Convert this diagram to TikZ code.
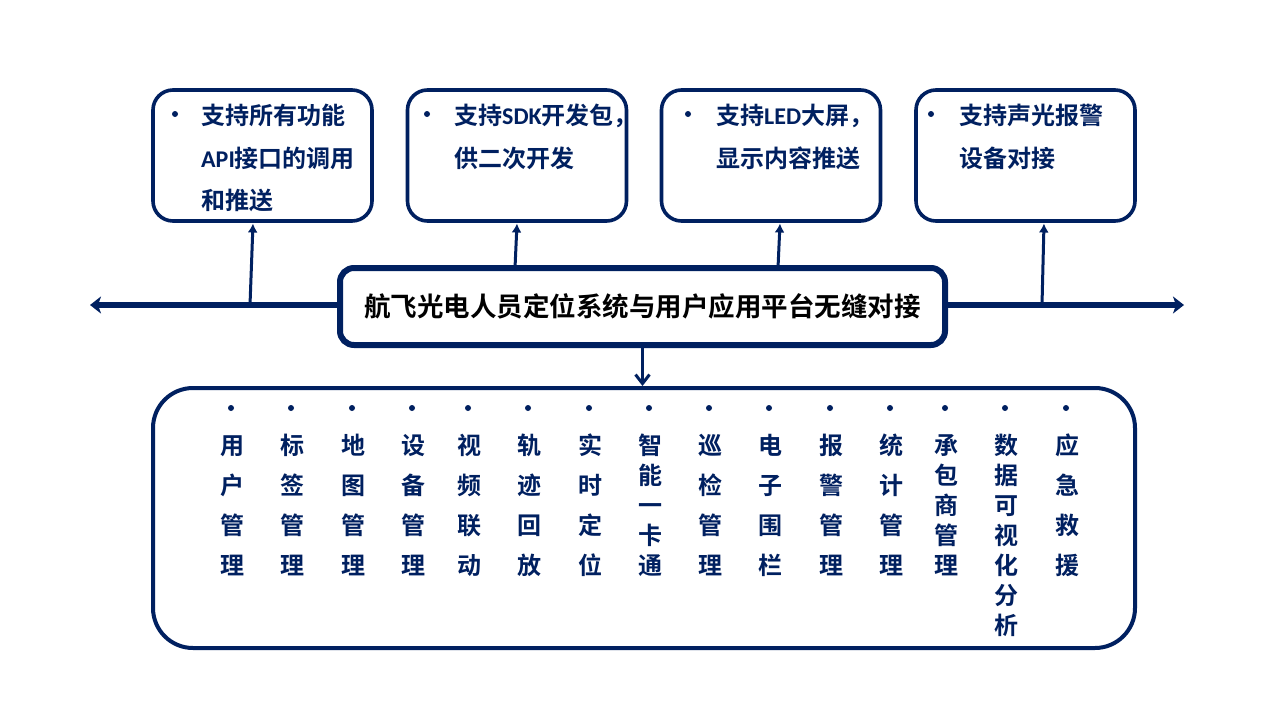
\documentclass[tikz,border=0pt]{standalone}
\usepackage{fontspec}
\setmainfont{Noto Sans CJK SC}[BoldFont={Noto Sans CJK SC Bold}]
\newfontfamily\latf{Carlito}
\usetikzlibrary{arrows.meta}
\definecolor{navy}{HTML}{002060}
\begin{document}
\begin{tikzpicture}[x=1pt,y=-1pt,
  topbox/.style={draw=navy, line width=3.6pt, rounded corners=20pt, minimum width=219pt, minimum height=131pt, inner sep=0pt},
  tline/.style={anchor=west, inner sep=0pt, text=navy, font=\fontsize{24}{28}\selectfont\bfseries, text height=21pt, text depth=3pt},
  tdot/.style={circle, fill=navy, inner sep=0pt, minimum size=6pt},
  centerbox/.style={draw=navy, line width=6pt, rounded corners=14pt, minimum width=605pt, minimum height=77pt, inner sep=0pt, font=\fontsize{26.5}{30}\selectfont\bfseries, text=black},
  bottombox/.style={draw=navy, line width=4pt, rounded corners=40pt, minimum width=982pt, minimum height=260pt, inner sep=0pt},
  bch/.style={inner sep=0pt, text=navy, font=\fontsize{24}{28}\selectfont\bfseries, text height=21pt, text depth=3pt},
  hline/.style={draw=navy, line width=6pt, -{Stealth[length=11pt,width=17pt,inset=3pt]}},
  uparr/.style={draw=navy, line width=3pt, -{Latex[length=9pt,width=10pt]}},
  downarr/.style={draw=navy, line width=3pt, -{Straight Barb[length=9pt,width=14pt]}}
]
\fill[white] (0,0) rectangle (1280,720);
\useasboundingbox (0,0) rectangle (1280,720);

% top boxes
\node[topbox] (b1) at (262.5,155.5) {};
\node[topbox] (b2) at (517,155.5) {};
\node[topbox] (b3) at (771,155.5) {};
\node[topbox] (b4) at (1025.5,155.5) {};

\node[tdot] (d1) at (175,114) {};
\node[tline] (t1a) at (201,115) {支持所有功能};
\node[tline] (t1b) at (201,158) {{\latf\bfseries API}接口的调用};
\node[tline] (t1c) at (201,200) {和推送};

\node[tdot] (d2) at (427,114) {};
\node[tline] (t2a) at (454,115) {支持{\latf\bfseries SDK}开发包，};
\node[tline] (t2b) at (454,158) {供二次开发};

\node[tdot] (d3) at (688,114) {};
\node[tline] (t3a) at (716,115) {支持{\latf\bfseries LED}大屏，};
\node[tline] (t3b) at (716,158) {显示内容推送};

\node[tdot] (d4) at (931,114) {};
\node[tline] (t4a) at (959,115) {支持声光报警};
\node[tline] (t4b) at (959,158) {设备对接};

% center box
\node[centerbox] (cb) at (642.5,306.5) {航飞光电人员定位系统与用户应用平台无缝对接};

% horizontal bus
\coordinate (lend) at (90,305);
\coordinate (rend) at (1184,305);
\draw[hline] (cb.west |- lend) -- (lend);
\draw[hline] (cb.east |- rend) -- (rend);

% up connectors
\coordinate (j1) at (250,305);
\coordinate (u1) at (253,223.5);
\coordinate (j2) at (515,268);
\coordinate (u2) at (517,223.5);
\coordinate (j3) at (778,268);
\coordinate (u3) at (780,223.5);
\coordinate (j4) at (1042,305);
\coordinate (u4) at (1044,223.5);
\draw[uparr] (j1) -- (u1);
\draw[uparr] (j2) -- (u2);
\draw[uparr] (j3) -- (u3);
\draw[uparr] (j4) -- (u4);

% bottom box
\node[bottombox] (bb) at (644,518) {};
\draw[downarr] (cb.south) -- (cb.south |- bb.north);

\foreach \x/\sp/\w [count=\i] in {
  231/40/{用,户,管,理},
  291/40/{标,签,管,理},
  352/40/{地,图,管,理},
  412/40/{设,备,管,理},
  468/40/{视,频,联,动},
  528/40/{轨,迹,回,放},
  589/40/{实,时,定,位},
  649/30/{智,能,一,卡,通},
  709/40/{巡,检,管,理},
  769/40/{电,子,围,栏},
  830/40/{报,警,管,理},
  890/40/{统,计,管,理},
  945/30/{承,包,商,管,理},
  1005/30/{数,据,可,视,化,分,析},
  1066/40/{应,急,救,援}} {
  \node[tdot] (bd\i) at (\x,408) {};
  \foreach \c [count=\j] in \w {
    \node[bch] (c\i-\j) at (\x+1, {445+(\j-1)*\sp}) {\c};
  }
}
\end{tikzpicture}
\end{document}
